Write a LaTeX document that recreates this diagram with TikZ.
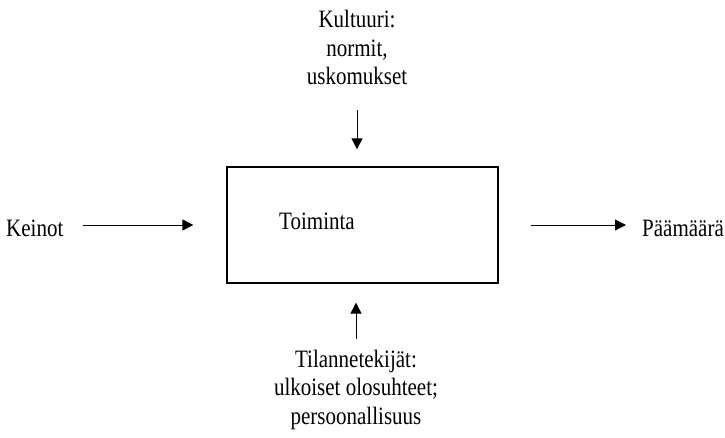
\documentclass[tikz,border=0pt]{standalone}
\usepackage{fontspec}
\setmainfont[FakeStretch=0.84]{Liberation Serif}
\usepackage{tikz}
\usetikzlibrary{arrows.meta,positioning}
\tikzset{
  tbox/.style={draw=black,line width=1.3pt,minimum width=271pt,minimum height=116pt,inner sep=0pt},
  tlabel/.style={inner sep=0pt,align=center},
  tarr/.style={-{Triangle[length=11pt,width=11pt]},line width=1pt,draw=black}
}
\begin{document}
\begin{tikzpicture}[x=1pt,y=-1pt,font=\fontsize{25}{28.5}\selectfont]
  \useasboundingbox (0,0) rectangle (725,437);
  \node[tbox] (box) at (362.5,225) {};
  \node[tlabel,anchor=base west] (toim) at (279,229) {Toiminta};
  \node[tlabel,anchor=base west] (keinot) at (6,236) {Keinot};
  \node[tlabel,anchor=base west] (paam) at (642,236) {Päämäärä};
  \node[tlabel,anchor=north] (kult) at (357,10) {Kultuuri:\\ normit,\\ uskomukset};
  \node[tlabel,anchor=south] (tilan) at (356,430) {Tilannetekijät:\\ ulkoiset olosuhteet;\\ persoonallisuus};
  \draw[tarr,shorten <=19pt,shorten >=33pt] (keinot.east |- box.west) -- (box.west);
  \draw[tarr,shorten <=32pt,shorten >=16pt] (box.east) -- (paam.west |- box.east);
  \draw[tarr,shorten <=25pt,shorten >=17pt] (kult.south) -- (kult.south |- box.north);
  \draw[tarr,shorten <=11pt,shorten >=19pt] (tilan.north) -- (tilan.north |- box.south);
\end{tikzpicture}
\end{document}
